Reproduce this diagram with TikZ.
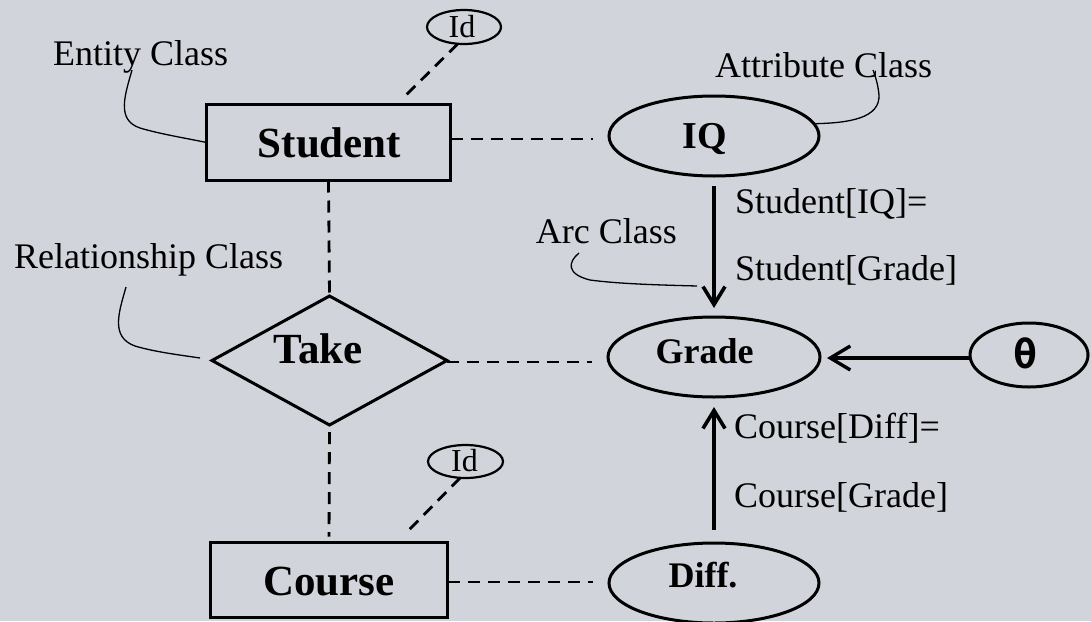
\documentclass[tikz,border=0pt]{standalone}
\usepackage{fontspec}
\setmainfont{Liberation Serif}
\newfontfamily\thetafont{DejaVu Sans Mono}
\usetikzlibrary{shapes.geometric,arrows.meta}
\definecolor{bgc}{RGB}{209,212,219}
\begin{document}
\begin{tikzpicture}[x=1pt,y=-1pt,
  shp/.style={draw, line width=3pt, inner sep=0pt, outer sep=0pt},
  ent/.style={shp, rectangle, line width=3.3pt},
  att/.style={shp, ellipse},
  rel/.style={shp, diamond},
  idell/.style={shp, ellipse, line width=2.2pt},
  txt/.style={inner sep=0pt, anchor=base, font=\fontsize{36}{40}\selectfont},
  txtw/.style={txt, anchor=base west},
  bigb/.style={inner sep=0pt, anchor=base, font=\fontsize{43}{48}\selectfont\bfseries},
  midb/.style={inner sep=0pt, anchor=base, font=\fontsize{36}{40}\selectfont\bfseries},
  idtxt/.style={inner sep=0pt, anchor=base, font=\fontsize{32}{36}\selectfont},
  dsh/.style={line width=2.8pt, dash pattern=on 12pt off 8pt},
  arr/.style={line width=3.6pt, -{Straight Barb[length=18pt,width=22pt]}},
  call/.style={line width=1.3pt}
]
\useasboundingbox (0,0) rectangle (1091,621);
\fill[bgc] (0,0) rectangle (1091,621);

% shapes
\node[ent, minimum width=244, minimum height=76] (student) at (328.5,142.5) {};
\node[ent, minimum width=237, minimum height=75] (course) at (329,580) {};
\node[rel, minimum width=235, minimum height=129] (take) at (329.5,360.5) {};
\node[att, minimum width=210, minimum height=80] (iq) at (714,136) {};
\node[att, minimum width=212, minimum height=80] (grade) at (714,357) {};
\node[att, minimum width=210, minimum height=80] (diff) at (714,583) {};
\node[att, minimum width=118, minimum height=64] (theta) at (1029,355) {};
\node[idell, minimum width=74, minimum height=34] (id1) at (464,27) {};
\node[idell, minimum width=75, minimum height=33] (id2) at (465.5,461.5) {};

% texts
\node[bigb] (tstudent) at (329.5,157) {Student};
\node[bigb] (tcourse) at (329,595) {Course};
\node[bigb] (ttake) at (318,363) {Take};
\node[inner sep=0pt, anchor=base, font=\fontsize{38}{42}\selectfont\bfseries] (tiq) at (704.7,148) {IQ};
\node[midb] (tgrade) at (704.5,363) {Grade};
\node[midb] (tdiff) at (703,587) {Diff.};
\node[inner sep=0pt, font=\fontsize{40}{44}\selectfont\thetafont\bfseries] (ttheta) at (1026,353) {θ};
\node[idtxt] (tid1) at (462,37) {Id};
\node[idtxt] (tid2) at (464.5,471) {Id};

\node[txtw] (lentity) at (53,65) {Entity Class};
\node[txtw] (lattr) at (715,77) {Attribute Class};
\node[txtw] (lrel) at (14,268) {Relationship Class};
\node[txt, anchor=base east] (larc) at (677,243) {Arc Class};
\node[txtw] (l1) at (735,213) {Student[IQ]=};
\node[txtw] (l2) at (735,280) {Student[Grade]};
\node[txtw] (l3) at (734,438) {Course[Diff]=};
\node[txtw] (l4) at (734,507) {Course[Grade]};

% dashed connectors
\coordinate (sidend) at (403,98);
\coordinate (cidend) at (407,532);
\draw[dsh] (id1.250) -- (sidend);
\draw[dsh] (id2.252) -- (cidend);
\draw[dsh, shorten >=16pt] ([yshift=3.5pt]student.east) -- ([yshift=3.5pt]student.east -| iq.west);
\draw[dsh] (student.south) -- (take.north);
\draw[dsh, shorten >=16pt] ([yshift=-1.5pt]take.east) -- ([yshift=-1.5pt]take.east -| grade.west);
\draw[dsh, shorten <=7pt, shorten >=6pt] (take.south) -- (course.north);
\draw[dsh, shorten >=16pt] ([yshift=-2pt]course.east) -- ([yshift=-2pt]course.east -| diff.west);

% arrows
\draw[arr, shorten <=10pt, shorten >=9pt] (iq.south) -- (grade.north);
\draw[arr, shorten <=13pt, shorten >=10pt] (diff.north) -- (grade.south);
\draw[line width=3.4pt, -{Straight Barb[length=20pt,width=24pt]}, shorten >=7pt] ([yshift=-3pt]theta.west) -- ([yshift=-3pt]theta.west -| grade.east);

% callouts
\coordinate (ec) at (132,70);
\draw[call] (ec) .. controls (125,95) and (116,120) .. (140,128)
  .. controls (160,134) and (185,138) .. (student.west);
\coordinate (ac) at (873,70);
\draw[call] (iq.7) .. controls (850,123) and (880,118) .. (879,95)
  .. controls (878,85) and (876,78) .. (ac);
\coordinate (rc) at (126,287);
\coordinate (rcend) at (200,358);
\draw[call] (rc) .. controls (119,312) and (110,337) .. (135,346)
  .. controls (155,352) and (180,355) .. (rcend);
\coordinate (arcA) at (579,253);
\coordinate (arcB) at (697,286);
\draw[call] (arcA) .. controls (568,262) and (566,274) .. (590,280)
  .. controls (620,284) and (660,285) .. (arcB);
\end{tikzpicture}
\end{document}
